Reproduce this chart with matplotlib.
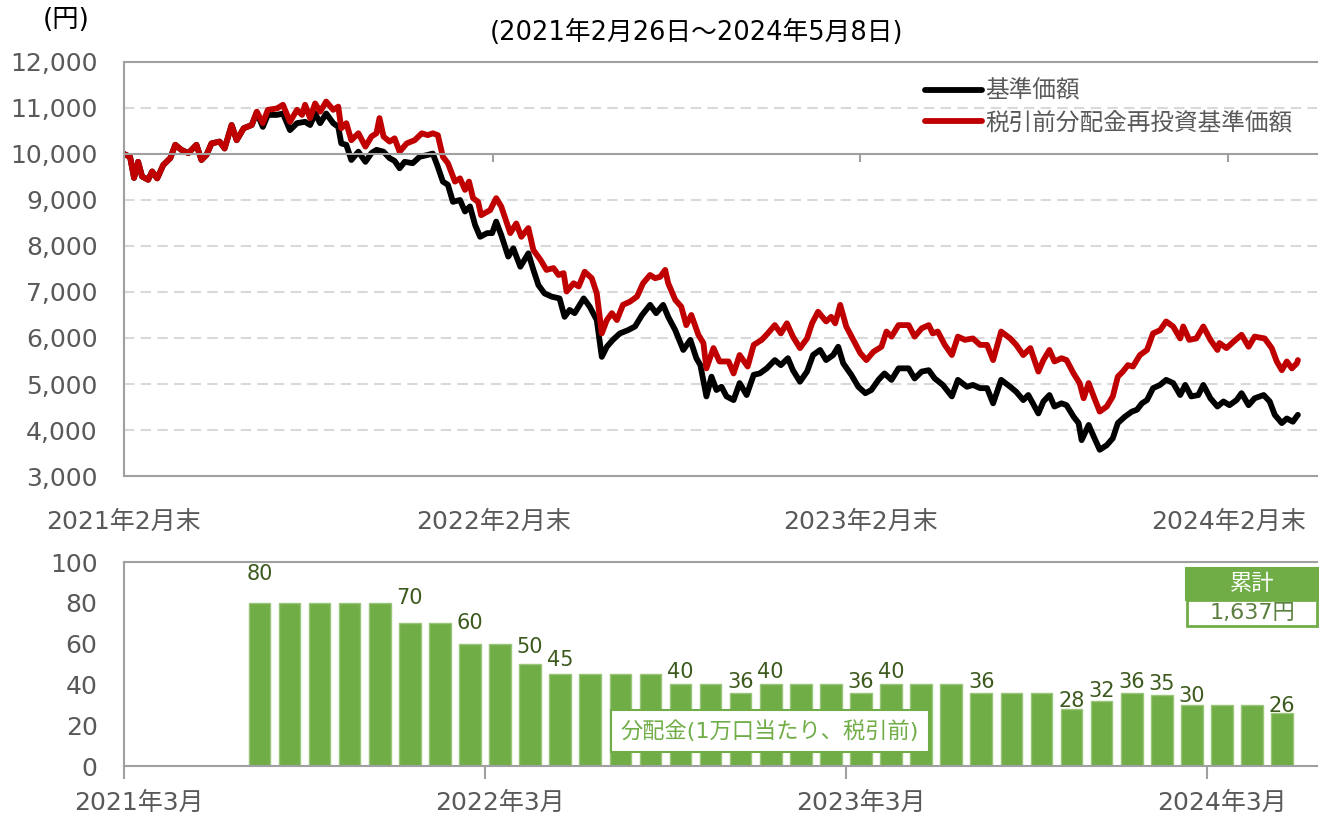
import matplotlib
matplotlib.use('Agg')
import matplotlib.pyplot as plt
import matplotlib.patches as mpatches
import numpy as np
import pandas as pd

plt.rcParams['font.family'] = ['DejaVu Sans', 'Noto Sans CJK JP']

# ---- data -------------------------------------------------------------
START = pd.Timestamp('2021-02-26')   # day 0 of the line chart

# 基準価額 (days after 2021-02-26, yen)
nav_day = [0, 6, 10, 14, 18, 24, 28, 33, 39, 46,
           51, 57, 64, 72, 77, 82, 87, 95, 100, 107,
           112, 119, 127, 132, 138, 143, 152, 158, 165, 172,
           180, 185, 190, 195, 201, 208, 213, 216, 221, 226,
           233, 240, 246, 251, 258, 264, 269, 274, 279, 287,
           294, 302, 307, 312, 317, 322, 327, 334, 339, 344,
           349, 354, 361, 366, 370, 375, 382, 387, 394, 402,
           407, 412, 418, 425, 433, 438, 443, 448, 457, 463,
           470, 475, 480, 486, 493, 501, 508, 515, 523, 529,
           536, 541, 548, 556, 563, 569, 573, 579, 584, 589,
           594, 599, 606, 612, 619, 626, 632, 639, 647, 653,
           660, 665, 672, 679, 685, 692, 698, 705, 710, 715,
           723, 730, 737, 743, 750, 756, 763, 770, 780, 786,
           793, 800, 806, 814, 823, 829, 838, 844, 851, 858,
           864, 872, 881, 887, 894, 899, 909, 914, 920, 925,
           932, 937, 944, 949, 952, 959, 964, 970, 977, 983,
           988, 995, 1002, 1007, 1012, 1017, 1023, 1030, 1036, 1043,
           1050, 1055, 1061, 1068, 1073, 1080, 1087, 1093, 1099, 1106,
           1111, 1118, 1124, 1133, 1139, 1144, 1151, 1156, 1162, 1167]
nav = [10000, 9940, 9480, 9830, 9510, 9440, 9620, 9470, 9760, 9910,
       10200, 10090, 10020, 10200, 9870, 9980, 10230, 10270, 10120, 10630,
       10300, 10560, 10630, 10900, 10590, 10850, 10850, 10880, 10520, 10670,
       10700, 10630, 10880, 10670, 10880, 10670, 10590, 10230, 10200, 9870,
       10050, 9830, 10020, 10090, 10050, 9910, 9850, 9690, 9830, 9800,
       9940, 9980, 10010, 9720, 9400, 9330, 8960, 9000, 8750, 8860,
       8460, 8200, 8280, 8280, 8530, 8240, 7770, 7950, 7550, 7840,
       7480, 7150, 6970, 6900, 6860, 6460, 6610, 6540, 6860, 6680,
       6390, 5590, 5810, 5960, 6100, 6170, 6250, 6500, 6720, 6540,
       6720, 6460, 6170, 5740, 5960, 5560, 5410, 4730, 5160, 4870,
       4940, 4730, 4650, 5020, 4760, 5200, 5230, 5340, 5520, 5410,
       5560, 5300, 5050, 5270, 5630, 5740, 5520, 5630, 5810, 5450,
       5200, 4940, 4800, 4870, 5090, 5230, 5090, 5340, 5340, 5120,
       5270, 5300, 5120, 4980, 4730, 5090, 4940, 4980, 4910, 4910,
       4580, 5090, 4940, 4830, 4650, 4760, 4360, 4620, 4760, 4510,
       4580, 4540, 4290, 4150, 3780, 4110, 3860, 3570, 3670, 3820,
       4150, 4290, 4400, 4440, 4580, 4650, 4910, 4980, 5090, 5020,
       4760, 4980, 4730, 4760, 4980, 4690, 4510, 4620, 4540, 4650,
       4800, 4540, 4690, 4760, 4620, 4330, 4150, 4250, 4180, 4330]

# 税引前分配金再投資基準価額
reinv_day = [0, 6, 10, 14, 18, 24, 28, 33, 39, 46,
             51, 57, 64, 72, 77, 82, 87, 95, 100, 107,
             112, 119, 127, 132, 138, 143, 152, 158, 165, 172,
             177, 180, 185, 190, 195, 201, 208, 213, 216, 221,
             226, 233, 240, 246, 251, 254, 258, 264, 269, 274,
             281, 289, 296, 302, 307, 312, 317, 322, 329, 334,
             339, 343, 347, 352, 355, 364, 370, 375, 384, 390,
             395, 402, 407, 414, 420, 427, 432, 437, 440, 447,
             452, 458, 465, 470, 475, 480, 485, 490, 496, 503,
             510, 516, 523, 528, 533, 538, 541, 548, 554, 559,
             564, 571, 576, 579, 586, 592, 601, 606, 612, 620,
             626, 634, 640, 647, 653, 659, 665, 672, 679, 684,
             690, 698, 703, 707, 712, 718, 725, 732, 738, 745,
             753, 758, 763, 770, 780, 786, 793, 800, 804, 809,
             816, 823, 829, 836, 844, 851, 858, 864, 872, 881,
             887, 894, 901, 909, 914, 920, 925, 932, 937, 944,
             950, 954, 959, 964, 970, 977, 983, 988, 993, 998,
             1003, 1010, 1017, 1023, 1030, 1036, 1043, 1050, 1053, 1059,
             1066, 1073, 1080, 1087, 1089, 1096, 1103, 1111, 1118, 1124,
             1134, 1141, 1146, 1151, 1156, 1161, 1166, 1167]
reinv = [10000, 9940, 9480, 9830, 9510, 9440, 9620, 9470, 9760, 9910,
         10200, 10090, 10020, 10200, 9870, 9980, 10230, 10270, 10120, 10630,
         10300, 10560, 10630, 10920, 10670, 10960, 10990, 11070, 10700, 10960,
         10850, 11070, 10780, 11100, 10920, 11140, 10960, 11030, 10560, 10670,
         10300, 10450, 10160, 10380, 10450, 10780, 10380, 10270, 10340, 10050,
         10230, 10300, 10450, 10410, 10450, 10410, 9940, 9800, 9400, 9470,
         9220, 9400, 9040, 8960, 8670, 8780, 9040, 8860, 8280, 8490,
         8200, 8390, 7910, 7700, 7480, 7520, 7370, 7410, 7010, 7190,
         7120, 7440, 7300, 6970, 6100, 6390, 6540, 6390, 6720, 6790,
         6900, 7190, 7370, 7300, 7330, 7480, 7190, 6830, 6680, 6280,
         6500, 6070, 5890, 5340, 5780, 5490, 5490, 5230, 5630, 5380,
         5850, 5960, 6100, 6280, 6100, 6320, 6030, 5780, 5990, 6320,
         6570, 6360, 6460, 6320, 6720, 6250, 5960, 5670, 5520, 5700,
         5810, 6140, 6030, 6280, 6280, 6030, 6210, 6280, 6100, 6140,
         5850, 5630, 6030, 5960, 5990, 5850, 5850, 5520, 6140, 5990,
         5850, 5630, 5780, 5270, 5520, 5740, 5490, 5560, 5520, 5230,
         5020, 4690, 5020, 4730, 4400, 4510, 4730, 5160, 5270, 5410,
         5380, 5630, 5740, 6100, 6170, 6360, 6250, 5990, 6250, 5960,
         5990, 6250, 5960, 5740, 5890, 5780, 5920, 6070, 5810, 6030,
         5990, 5780, 5490, 5300, 5490, 5340, 5450, 5520]

x_tick_dates = ['2021-02-26', '2022-02-28', '2023-02-28', '2024-02-29']
x_tick_labels = ['2021年2月末', '2022年2月末', '2023年2月末', '2024年2月末']

# 分配金 (monthly, 2021年3月 .. 2024年5月)
dist_months = pd.period_range('2021-03', '2024-05', freq='M')
dist = [0, 0, 0, 0, 80, 80, 80, 80, 80, 70,
        70, 60, 60, 50, 45, 45, 45, 45, 40, 40,
        36, 40, 40, 40, 36, 40, 40, 40, 36, 36,
        36, 28, 32, 36, 35, 30, 30, 30, 26]
dist_labeled = [4, 9, 11, 13, 14, 18, 20, 21, 24, 25, 28, 31, 32, 33, 34, 35, 38]
total_dist = '1,637円'

# ---- style -------------------------------------------------------------
GRAY = '#595959'
SPINE = '#A0A0A0'
GREEN = '#70AD47'
DKGREEN = '#3D5A1E'
W, H = 1319, 816

fig = plt.figure(figsize=(W / 100, H / 100), dpi=100)

# ---- top: line chart ---------------------------------------------------
ax = fig.add_axes([124 / W, 1 - 476 / H, 1193 / W, 414 / H])
l1, = ax.plot(nav_day, nav, color='black', lw=4.2, solid_joinstyle='round', solid_capstyle='round')
l2, = ax.plot(reinv_day, reinv, color='#C00000', lw=4.2, solid_joinstyle='round', solid_capstyle='round')

ax.set_ylim(3000, 12000)
ax.set_xlim(0, 1186)
ax.set_yticks(range(3000, 12001, 1000))
ax.set_yticklabels([f'{v:,}' for v in range(3000, 12001, 1000)])
ax.tick_params(axis='y', length=0, pad=19, labelsize=18, labelcolor=GRAY)
for v in range(4000, 12000, 1000):
    if v != 10000:
        ax.axhline(v, color='#D9D9D9', lw=1.5, ls=(0, (5, 3)), zorder=0)

ax.spines['right'].set_visible(False)
for s in ['left', 'top', 'bottom']:
    ax.spines[s].set_color(SPINE)
    ax.spines[s].set_linewidth(1.5)
ax.spines['bottom'].set_position(('data', 10000))

tick_days = [(pd.Timestamp(d) - START).days for d in x_tick_dates]
ax.set_xticks(tick_days)
ax.tick_params(axis='x', direction='out', length=6, width=1.5, color=SPINE, labelbottom=False)

sec = ax.secondary_xaxis('bottom')
sec.set_xticks(tick_days, labels=x_tick_labels)
sec.tick_params(length=0, pad=24.5, labelsize=18, labelcolor=GRAY)
sec.spines['bottom'].set_color(SPINE)
sec.spines['bottom'].set_linewidth(1.5)

leg = ax.legend([l1, l2], ['基準価額', '税引前分配金再投資基準価額'],
                loc='upper left', bbox_to_anchor=(925 / W, 1 - 79 / H),
                bbox_transform=fig.transFigure, frameon=False, fontsize=17,
                handlelength=2.4, handletextpad=0.15, labelspacing=0.3,
                borderpad=0, borderaxespad=0)
for t in leg.get_texts():
    t.set_color(GRAY)

fig.text(697 / W, 1 - 33 / H, '(2021年2月26日～2024年5月8日)', ha='center', va='center',
         fontsize=18.5, color='black')
fig.text(66 / W, 1 - 20 / H, '(円)', ha='center', va='center', fontsize=19, color='black')

# ---- bottom: distribution bars -----------------------------------------
ax2 = fig.add_axes([124 / W, 1 - 766 / H, 1193 / W, 204 / H])
idx = np.arange(len(dist))
paid = [i for i in idx if dist[i] > 0]
ax2.bar(paid, [dist[i] for i in paid], width=0.72, color=GREEN, edgecolor='#9BC57A', linewidth=1)
for i in dist_labeled:
    ax2.text(i, dist[i] * 1.2 - 1.8, str(dist[i]), ha='center', va='center',
             fontsize=15, color=DKGREEN)

ax2.set_xlim(-0.5, 39.16)
ax2.set_ylim(0, 100)
ax2.set_yticks(range(0, 101, 20))
ax2.tick_params(axis='y', length=0, pad=19, labelsize=18, labelcolor=GRAY)
ax2.set_xticks([-0.5, 11.5, 23.5, 35.5])
ax2.set_xticklabels([])
ax2.tick_params(axis='x', which='major', direction='out', length=9, width=1.5, color=SPINE)
lab_idx = [0, 12, 24, 36]
ax2.set_xticks(lab_idx, minor=True)
ax2.set_xticklabels([f'{dist_months[i].year}年{dist_months[i].month}月' for i in lab_idx], minor=True)
ax2.tick_params(axis='x', which='minor', length=0, pad=18, labelsize=18, labelcolor=GRAY)
ax2.spines['right'].set_visible(False)
for s in ['left', 'top', 'bottom']:
    ax2.spines[s].set_color(SPINE)
    ax2.spines[s].set_linewidth(1.5)

fig.text(770 / W, 1 - 731 / H, '分配金(1万口当たり、税引前)', ha='center', va='center',
         fontsize=16, color=GREEN,
         bbox=dict(boxstyle='square,pad=0.45', fc='white', ec=GREEN, lw=1.5))

# 累計 box
fig.patches.append(mpatches.Rectangle((1186 / W, 1 - 600 / H), 132 / W, 32 / H,
                                      transform=fig.transFigure, fc=GREEN, ec=GREEN, lw=1.5))
fig.patches.append(mpatches.Rectangle((1187 / W, 1 - 626 / H), 130 / W, 26 / H,
                                      transform=fig.transFigure, fc='white', ec=GREEN, lw=2))
fig.text(1252 / W, 1 - 584 / H, '累計', ha='center', va='center', fontsize=16, color='white')
fig.text(1252 / W, 1 - 613 / H, total_dist, ha='center', va='center', fontsize=16, color='#5B7F3F')

fig.savefig('out.png', dpi=100)
